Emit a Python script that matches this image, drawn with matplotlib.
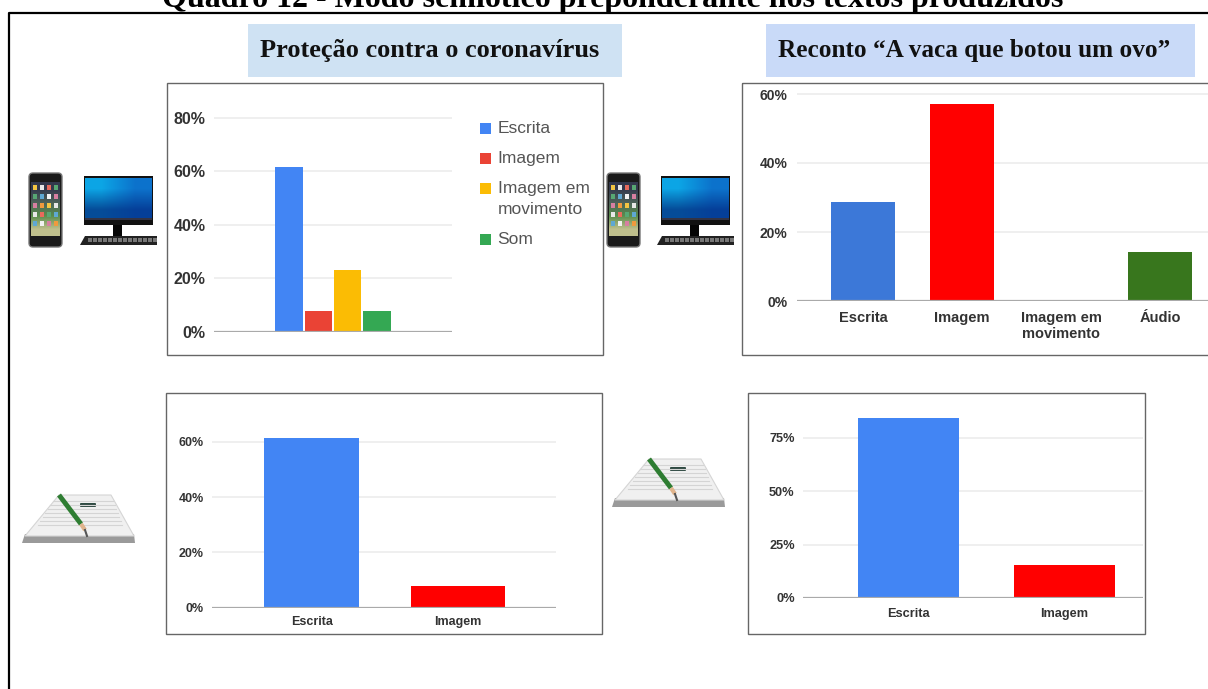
import numpy as np
import matplotlib
matplotlib.use("Agg")
from matplotlib import pyplot as plt
from matplotlib.patches import Rectangle, Polygon, FancyBboxPatch

W, H = 1208, 689

titulo = "Quadro 12 - Modo semiótico preponderante nos textos produzidos"
tema_a = "Proteção contra o coronavírus"
tema_b = "Reconto “A vaca que botou um ovo”"

# grafico de cima, esquerda
modos_a = ["Escrita", "Imagem", "Imagem em\nmovimento", "Som"]
valores_a = [61.5, 7.7, 23.1, 7.7]
cores_a = ["#4285f4", "#ea4335", "#fbbc04", "#34a853"]
ticks_a = [0, 20, 40, 60, 80]

# grafico de cima, direita
modos_b = ["Escrita", "Imagem", "Imagem em\nmovimento", "Áudio"]
valores_b = [28.6, 57.1, 0, 14.3]
cores_b = ["#3c78d8", "#ff0000", "#ff9900", "#38761d"]
ticks_b = [0, 20, 40, 60]

# graficos de baixo
modos_c = ["Escrita", "Imagem"]
valores_c = [61.5, 7.7]
cores_c = ["#4285f4", "#ff0000"]
ticks_c = [0, 20, 40, 60]

modos_d = ["Escrita", "Imagem"]
valores_d = [84.6, 15.4]
cores_d = ["#4285f4", "#ff0000"]
ticks_d = [0, 25, 50, 75]

plt.rcParams["font.family"] = ["Liberation Sans", "DejaVu Sans"]

fig = plt.figure(figsize=(W / 100, H / 100), dpi=100, facecolor="white")

# camada em pixels para moldura, faixas e icones
fundo = fig.add_axes([0, 0, 1, 1])
fundo.set_xlim(0, W)
fundo.set_ylim(H, 0)
fundo.axis("off")


def eixo(x0, x1, ytopo, y0, ymax_px, ymax_val, xmin, xmax):
    # eixos posicionados em pixels; o limite y sai da escala da grade
    esc = (y0 - ymax_px) / ymax_val
    ax = fig.add_axes([x0 / W, 1 - y0 / H, (x1 - x0) / W, (y0 - ytopo) / H])
    ax.set_xlim(xmin, xmax)
    ax.set_ylim(0, (y0 - ytopo) / esc)
    ax.patch.set_alpha(0)
    for s in ax.spines.values():
        s.set_visible(False)
    return ax


def barras(ax, pos, valores, cores, largura, ticks, fs, cor="#333333"):
    ax.set_axisbelow(True)
    ax.grid(axis="y", color="#ececec", lw=1.2)
    ax.bar(pos, valores, width=largura, color=cores, zorder=2)
    ax.axhline(0, color="#aaaaaa", lw=1.6, zorder=3)
    ax.set_yticks(ticks)
    ax.set_yticklabels([f"{t}%" for t in ticks], fontsize=fs, fontweight="bold", color=cor)
    ax.tick_params(axis="both", length=0)


def moldura(x0, y0, x1, y1):
    fundo.add_patch(Rectangle((x0, y0), x1 - x0, y1 - y0, fill=False, ec="#666666", lw=1.0))


def celular(x, y):
    fundo.add_patch(FancyBboxPatch((x + 2, y + 2), 33, 74, boxstyle="round,pad=0,rounding_size=4",
                                   fc="#1a1a1a", ec="#777777", lw=1))
    # tela com fundo em gradiente
    grad = np.array([[[0.20, 0.22, 0.30]], [[0.30, 0.38, 0.35]], [[0.35, 0.55, 0.30]], [[0.75, 0.75, 0.55]]])
    fundo.imshow(grad, extent=(x + 4, x + 33, y + 65, y + 11), aspect="auto", zorder=2, interpolation="bilinear")
    cores_app = ["#f4c542", "#e8e8e8", "#e86a5c", "#57a773", "#5fa8d3", "#f2f2f2", "#d77fa1", "#f09a3e"]
    for i in range(5):
        for j in range(4):
            fundo.add_patch(Rectangle((x + 5.5 + j * 7, y + 14 + i * 9), 4.5, 5, zorder=3,
                                      fc=cores_app[(i * 3 + j) % 8], ec="none"))
    fundo.set_xlim(0, W)
    fundo.set_ylim(H, 0)


def computador(x, y):
    fundo.add_patch(Rectangle((x + 4, y), 69, 49, fc="#111111", ec="none"))
    grad = np.array([[[0.05, 0.65, 0.90], [0.05, 0.45, 0.80]], [[0.02, 0.30, 0.60], [0.02, 0.25, 0.60]]])
    fundo.imshow(grad, extent=(x + 5, x + 72, y + 44, y + 2), aspect="auto", zorder=2, interpolation="bilinear")
    fundo.add_patch(Rectangle((x + 5, y + 42), 67, 2, fc="#333344", ec="none", zorder=3))
    fundo.add_patch(Rectangle((x + 33, y + 49), 9, 12, fc="#050505", ec="none"))
    fundo.add_patch(Polygon([(x + 22, y + 65), (x + 28, y + 61), (x + 48, y + 61), (x + 54, y + 65)],
                            fc="#050505", ec="none"))
    fundo.add_patch(Polygon([(x, y + 69), (x + 5, y + 60), (x + 77, y + 60), (x + 77, y + 69)],
                            fc="#222222", ec="none"))
    for k in range(14):
        fundo.add_patch(Rectangle((x + 8 + k * 5, y + 62), 3.5, 4, fc="#777777", ec="none"))
    fundo.set_xlim(0, W)
    fundo.set_ylim(H, 0)


def caderno(x, y):
    fundo.add_patch(Polygon([(x + 1, y + 49), (x + 114, y + 49), (x + 113, y + 40), (x + 4, y + 40)],
                            fc="#9a9a9a", ec="none"))
    fundo.add_patch(Polygon([(x + 4, y + 42), (x + 113, y + 42), (x + 90, y + 1), (x + 38, y + 1)],
                            fc="#f0f0f0", ec="#d5d5d5", lw=0.8))
    for k in range(7):
        t = k / 7
        fundo.plot([x + 32 - 18 * t, x + 100 + 3 * t - 8 * (1 - t)], [y + 7 + t * 28, y + 7 + t * 28],
                   color="#d4d4d4", lw=0.8)
    fundo.add_patch(FancyBboxPatch((x + 60, y + 10), 14, 2, boxstyle="round,pad=1", fc="#2f4a42", ec="none"))
    fundo.plot([x + 38, x + 60], [y + 1, y + 30], color="#2e7d32", lw=3.5, solid_capstyle="butt")
    fundo.plot([x + 60, x + 64], [y + 30, y + 36], color="#e0b48c", lw=3, solid_capstyle="butt")
    fundo.plot([x + 64, x + 66], [y + 36, y + 42], color="#555555", lw=1.5)


# titulo cortado pela borda superior e moldura externa
fundo.text(613, 7, titulo, family="Liberation Serif", fontweight="bold", fontsize=23,
           ha="center", va="baseline", color="black", clip_on=False)
fundo.plot([8.5, 8.5, W + 2], [H + 2, 12.5, 12.5], color="black", lw=1.6, solid_capstyle="butt")

# faixas dos temas
fundo.add_patch(Rectangle((248, 24), 374, 53, fc="#cfe2f3", ec="none"))
fundo.add_patch(Rectangle((766, 24), 429, 53, fc="#c9daf8", ec="none"))
fundo.text(430, 50, tema_a, family="Liberation Serif", fontweight="bold", fontsize=19, ha="center", va="center", color="#111111")
fundo.text(974, 50, tema_b, family="Liberation Serif", fontweight="bold", fontsize=18.2, ha="center", va="center", color="#111111")

moldura(167, 83, 603, 355)
moldura(742, 83, W + 5, 355)
moldura(166, 393, 601.5, 634)
moldura(748, 393, 1144.5, 634)

celular(27, 171)
computador(80, 176)
celular(605, 171)
computador(657, 176)
caderno(21, 494)
caderno(611, 458)

# A: uma barra por modo, lado a lado, com legenda
ax_a = eixo(214, 452, 90, 331.5, 118, 80, 1.5 - 4.06, 1.5 + 4.06)
barras(ax_a, np.arange(len(modos_a)), valores_a, cores_a, 0.93, ticks_a, 11.5)
ax_a.set_xticks([])
ax_a.tick_params(axis="y", pad=6)

linhas = [128, 158.5, 188.5, 239]
for nome, cor, yl in zip(modos_a, cores_a, linhas):
    fundo.add_patch(Rectangle((480, yl - 5.5), 11, 11, fc=cor, ec="none"))
    fundo.text(497.5, yl + 0.5, nome.split("\n")[0], fontsize=12.5, color="#555555", va="center")
    if "\n" in nome:
        fundo.text(497.5, yl + 21.5, nome.split("\n")[1], fontsize=12.5, color="#555555", va="center")

# B: passa da borda direita
ax_b = eixo(797, W, 86, 301, 94, 60, -66 / 99, 345 / 99)
barras(ax_b, np.arange(len(modos_b)), valores_b, cores_b, 64 / 99, ticks_b, 10)
ax_b.set_xticks(np.arange(len(modos_b)))
ax_b.set_xticklabels(modos_b, fontsize=10.5, fontweight="bold", color="#333333", linespacing=1.25)
ax_b.tick_params(axis="x", pad=7)
ax_b.tick_params(axis="y", pad=7)

# C
ax_c = eixo(212, 556, 400, 607.7, 442, 60, -0.68, 1.669)
barras(ax_c, np.arange(len(modos_c)), valores_c, cores_c, 0.648, ticks_c, 9)
ax_c.set_xticks(np.arange(len(modos_c)))
ax_c.set_xticklabels(modos_c, fontsize=9, fontweight="bold", color="#333333")
ax_c.tick_params(axis="x", pad=6)
ax_c.tick_params(axis="y", pad=6)

# D
ax_d = eixo(803, 1143, 400, 598, 438, 75, -0.68, 1.505)
barras(ax_d, np.arange(len(modos_d)), valores_d, cores_d, 0.648, ticks_d, 9.2)
ax_d.set_xticks(np.arange(len(modos_d)))
ax_d.set_xticklabels(modos_d, fontsize=9.2, fontweight="bold", color="#333333")
ax_d.tick_params(axis="x", pad=7)
ax_d.tick_params(axis="y", pad=6)

fig.savefig("out.png", dpi=100)
